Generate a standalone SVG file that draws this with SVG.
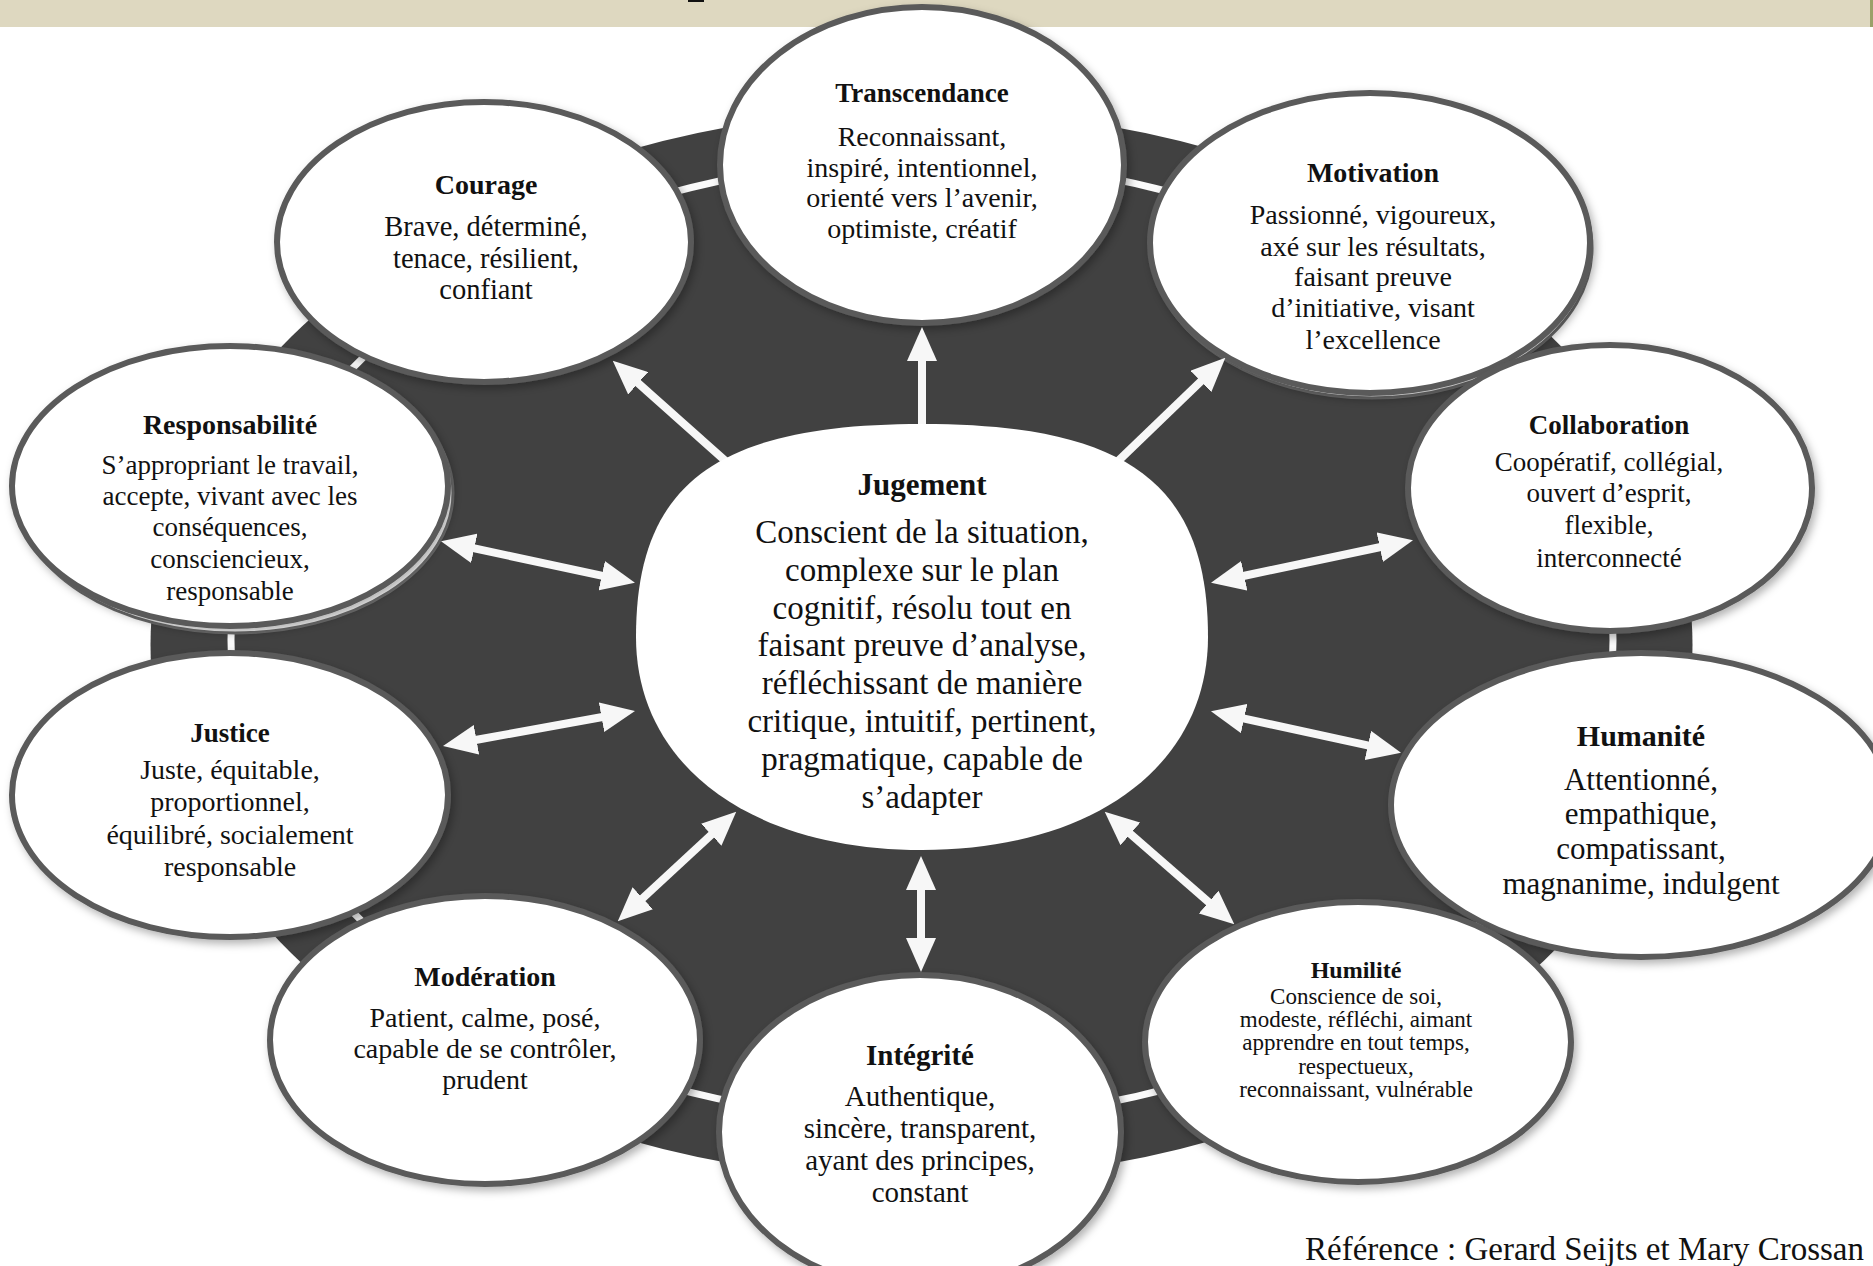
<svg xmlns="http://www.w3.org/2000/svg" width="1873" height="1266" viewBox="0 0 1873 1266">
<defs>
<style>
.node ellipse.main{fill:#fff;stroke:#5a5a5a;stroke-width:6;filter:url(#sh)}
.node ellipse.back{fill:#fff;stroke:#6e6e6e;stroke-width:3}
text{font-family:"Liberation Serif","Times New Roman",serif;text-anchor:middle;fill:#111}
.t{font-weight:bold}
.conn line{stroke:#f7f7f7;stroke-width:8;fill:none}
.dbl{marker-start:url(#ah);marker-end:url(#ah)}
.sgl{marker-end:url(#ah)}
</style>
<filter id="sh" x="-10%" y="-10%" width="125%" height="130%">
<feDropShadow dx="3" dy="4" stdDeviation="4" flood-color="#000" flood-opacity="0.3"/>
</filter>
<marker id="ah" viewBox="0 0 34 30" refX="1" refY="15" markerWidth="34" markerHeight="30" markerUnits="userSpaceOnUse" orient="auto-start-reverse">
<path d="M0,0 L34,15 L0,30 z" fill="#f7f7f7"/>
</marker>
</defs>
<rect x="0" y="0" width="1873" height="1266" fill="#fff"/>
<g id="banner">
<rect x="0" y="0" width="1873" height="27" fill="#ded8c0"/>
<rect x="688" y="0" width="16" height="2" fill="#111"/>
<rect x="1870" y="0" width="3" height="27" fill="#9aa06a"/>
</g>
<g id="background">
<ellipse cx="921.5" cy="645" rx="771" ry="535" fill="#414141"/>
<ellipse cx="922" cy="640" rx="691" ry="480" fill="none" stroke="#fafafa" stroke-width="7"/>
</g>
<g id="transcendance" class="node">
<ellipse class="main" cx="922" cy="165" rx="202" ry="158"/>
<text class="t" x="922" y="102" font-size="27">Transcendance</text>
<text font-size="28"><tspan x="922" y="146">Reconnaissant,</tspan><tspan x="922" y="177">inspiré, intentionnel,</tspan><tspan x="922" y="207">orienté vers l’avenir,</tspan><tspan x="922" y="238">optimiste, créatif</tspan></text>
</g>
<g id="courage" class="node">
<ellipse class="main" cx="484" cy="242" rx="207" ry="140"/>
<text class="t" x="486" y="194" font-size="28">Courage</text>
<text font-size="28.5"><tspan x="486" y="236">Brave, déterminé,</tspan><tspan x="486" y="268">tenace, résilient,</tspan><tspan x="486" y="299">confiant</tspan></text>
</g>
<g id="motivation" class="node">
<ellipse class="back" cx="1372" cy="248" rx="220" ry="150"/>
<ellipse class="main" cx="1370" cy="243" rx="220" ry="150"/>
<text class="t" x="1373" y="182" font-size="28">Motivation</text>
<text font-size="28"><tspan x="1373" y="224">Passionné, vigoureux,</tspan><tspan x="1373" y="256">axé sur les résultats,</tspan><tspan x="1373" y="286">faisant preuve</tspan><tspan x="1373" y="317">d’initiative, visant</tspan><tspan x="1373" y="349">l’excellence</tspan></text>
</g>
<g id="responsabilite" class="node">
<ellipse class="back" cx="235" cy="493" rx="218" ry="140"/>
<ellipse class="main" cx="230" cy="486" rx="218" ry="140"/>
<text class="t" x="230" y="434" font-size="28">Responsabilité</text>
<text font-size="27"><tspan x="230" y="474">S’appropriant le travail,</tspan><tspan x="230" y="505">accepte, vivant avec les</tspan><tspan x="230" y="536">conséquences,</tspan><tspan x="230" y="568">consciencieux,</tspan><tspan x="230" y="600">responsable</tspan></text>
</g>
<g id="collaboration" class="node">
<ellipse class="main" cx="1610" cy="488" rx="202" ry="143"/>
<text class="t" x="1609" y="434" font-size="27">Collaboration</text>
<text font-size="27"><tspan x="1609" y="471">Coopératif, collégial,</tspan><tspan x="1609" y="502">ouvert d’esprit,</tspan><tspan x="1609" y="534">flexible,</tspan><tspan x="1609" y="567">interconnecté</tspan></text>
</g>
<g id="justice" class="node">
<ellipse class="main" cx="230" cy="795" rx="218" ry="142"/>
<text class="t" x="230" y="742" font-size="27">Justice</text>
<text font-size="28"><tspan x="230" y="779">Juste, équitable,</tspan><tspan x="230" y="811">proportionnel,</tspan><tspan x="230" y="844">équilibré, socialement</tspan><tspan x="230" y="876">responsable</tspan></text>
</g>
<g id="humanite" class="node">
<ellipse class="main" cx="1641" cy="805" rx="250" ry="152"/>
<text class="t" x="1641" y="746" font-size="30">Humanité</text>
<text font-size="31"><tspan x="1641" y="790">Attentionné,</tspan><tspan x="1641" y="824">empathique,</tspan><tspan x="1641" y="859">compatissant,</tspan><tspan x="1641" y="894">magnanime, indulgent</tspan></text>
</g>
<g id="moderation" class="node">
<ellipse class="main" cx="485" cy="1040" rx="215" ry="144"/>
<text class="t" x="485" y="986" font-size="28">Modération</text>
<text font-size="28"><tspan x="485" y="1027">Patient, calme, posé,</tspan><tspan x="485" y="1058">capable de se contrôler,</tspan><tspan x="485" y="1089">prudent</tspan></text>
</g>
<g id="integrite" class="node">
<ellipse class="main" cx="920" cy="1132" rx="201" ry="157"/>
<text class="t" x="920" y="1065" font-size="29">Intégrité</text>
<text font-size="29"><tspan x="920" y="1106">Authentique,</tspan><tspan x="920" y="1138">sincère, transparent,</tspan><tspan x="920" y="1170">ayant des principes,</tspan><tspan x="920" y="1202">constant</tspan></text>
</g>
<g id="humilite" class="node">
<ellipse class="main" cx="1358" cy="1042" rx="213" ry="140"/>
<text class="t" x="1356" y="978" font-size="24">Humilité</text>
<text font-size="23"><tspan x="1356" y="1004">Conscience de soi,</tspan><tspan x="1356" y="1027">modeste, réfléchi, aimant</tspan><tspan x="1356" y="1050">apprendre en tout temps,</tspan><tspan x="1356" y="1074">respectueux,</tspan><tspan x="1356" y="1097">reconnaissant, vulnérable</tspan></text>
</g>
<g id="connectors" class="conn">
<line class="sgl" x1="922" y1="445" x2="922" y2="360"/>
<line class="sgl" x1="730" y1="465" x2="637.4" y2="382.6"/>
<line class="sgl" x1="1114" y1="465" x2="1201.6" y2="380.7"/>
<line class="dbl" x1="473.3" y1="548.1" x2="602.7" y2="575.9"/>
<line class="dbl" x1="1243.3" y1="576" x2="1380.7" y2="547"/>
<line class="dbl" x1="475.5" y1="740" x2="602.5" y2="717"/>
<line class="dbl" x1="1243.2" y1="718.3" x2="1368.8" y2="745.7"/>
<line class="dbl" x1="642" y1="898.9" x2="712" y2="834.1"/>
<line class="dbl" x1="921" y1="889" x2="921" y2="939"/>
<line class="dbl" x1="1129.6" y1="833.3" x2="1209.4" y2="902.7"/>
</g>
<g id="jugement" class="node">
<path d="M922,424 C1128,424 1208,484 1208,637 C1208,765 1094,850 922,850 C750,850 636,765 636,637 C636,484 716,424 922,424 Z" fill="#fff"/>
<text class="t" x="922" y="495" font-size="31">Jugement</text>
<text font-size="33"><tspan x="922" y="543">Conscient de la situation,</tspan><tspan x="922" y="581">complexe sur le plan</tspan><tspan x="922" y="619">cognitif, résolu tout en</tspan><tspan x="922" y="656">faisant preuve d’analyse,</tspan><tspan x="922" y="694">réfléchissant de manière</tspan><tspan x="922" y="732">critique, intuitif, pertinent,</tspan><tspan x="922" y="770">pragmatique, capable de</tspan><tspan x="922" y="808">s’adapter</tspan></text>
</g>
<g id="reference">
<text x="1864" y="1260" font-size="33" style="text-anchor:end">Référence : Gerard Seijts et Mary Crossan</text>
</g>
</svg>
